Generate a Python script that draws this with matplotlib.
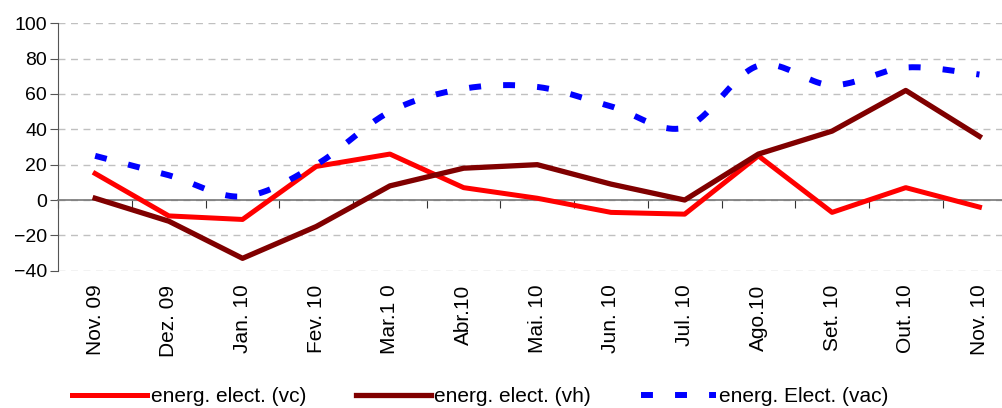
import numpy as np
import matplotlib
matplotlib.use("Agg")
import matplotlib.pyplot as plt

plt.rcParams['font.family'] = ['Liberation Sans', 'DejaVu Sans']

# data
months = ["Nov. 09", "Dez. 09", "Jan. 10", "Fev. 10", "Mar.1 0", "Abr.10", "Mai. 10",
          "Jun. 10", "Jul. 10", "Ago.10", "Set. 10", "Out. 10", "Nov. 10"]
vc = [15, -9, -11, 19, 26, 7, 1, -7, -8, 25, -7, 7, -4]
vh = [1, -12, -33, -15, 8, 18, 20, 9, 0, 26, 39, 62, 36]
vac = [25, 14, 2, 20, 50, 63, 64, 53, 41, 76, 65, 75, 71]
y_ticks = [-40, -20, 0, 20, 40, 60, 80, 100]


def smooth(x, y, n=24):
    # catmull-rom curve through the points (like excel "smoothed line")
    x = np.asarray(x, float)
    y = np.asarray(y, float)
    px = np.concatenate([[x[0]], x, [x[-1]]])
    py = np.concatenate([[y[0]], y, [y[-1]]])
    xs, ys = [], []
    t = np.linspace(0, 1, n, endpoint=False)
    for i in range(1, len(px) - 2):
        for p, out in ((px, xs), (py, ys)):
            p0, p1, p2, p3 = p[i - 1], p[i], p[i + 1], p[i + 2]
            out.extend(0.5 * (2 * p1 + (-p0 + p2) * t
                              + (2 * p0 - 5 * p1 + 4 * p2 - p3) * t ** 2
                              + (-p0 + 3 * p1 - 3 * p2 + p3) * t ** 3))
    xs.append(x[-1])
    ys.append(y[-1])
    return xs, ys


fig = plt.figure(figsize=(10.03, 4.08), dpi=100)
# axes run past the right edge of the picture, as in the original
ax = fig.add_axes([58.3 / 1003, 137.3 / 408, 958 / 1003, 247.4 / 408])

x = np.arange(len(months))
ax.plot(x, vc, color='#ff0000', lw=3.6, label='energ. elect. (vc)', zorder=3)
ax.plot(x, vh, color='#800000', lw=3.8, label='energ. elect. (vh)', zorder=3)
sx, sy = smooth(x, vac)
ax.plot(sx, sy, color='#0000ff', lw=4.3, linestyle=(0, (2, 3.7)),
        label='energ. Elect. (vac)', zorder=4)

ax.set_xlim(-0.5, len(months) - 0.5)
ax.set_ylim(y_ticks[0], y_ticks[-1])
ax.set_yticks(y_ticks)
ax.tick_params(axis='y', length=6, color='#555555', labelsize=14, pad=2)
ax.yaxis.grid(True, linestyle=(0, (5, 4)), color='#c0c0c0', lw=1)
ax.set_axisbelow(True)

for s in ('top', 'right'):
    ax.spines[s].set_visible(False)
ax.spines['left'].set_color('#555555')
ax.spines['bottom'].set_position(('data', 0))
ax.spines['bottom'].set_color('#777777')
ax.spines['bottom'].set_linewidth(1.2)
ax.set_xticks(np.arange(len(months) + 1) - 0.5)
ax.tick_params(axis='x', length=6, color='#333333', labelbottom=False)

for i, m in enumerate(months):
    ax.annotate(m, xy=(i, 0), xycoords=('data', 'axes fraction'),
                xytext=(0, -10), textcoords='offset points',
                rotation=90, ha='center', va='top', fontsize=15)

fig.legend(loc='center', bbox_to_anchor=(0.479, 0.027), ncol=3, frameon=False,
           handlelength=3.6, handletextpad=0.15, columnspacing=2.4, fontsize=15)

fig.savefig('out.png', dpi=100)
